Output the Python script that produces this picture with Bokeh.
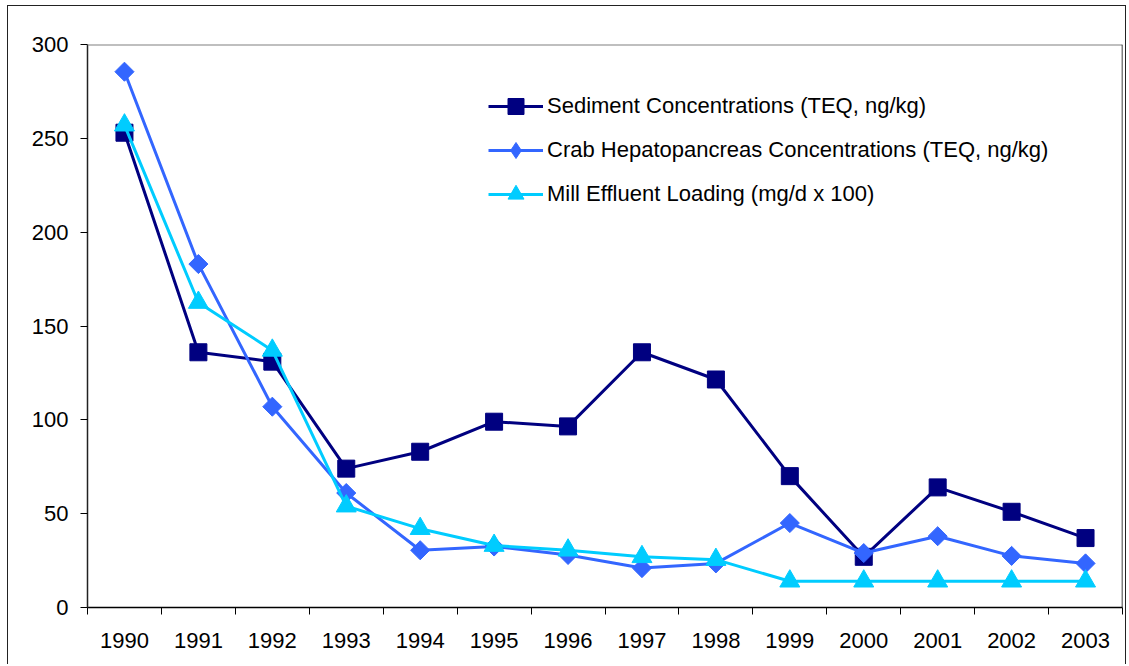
import numpy as np
from bokeh.plotting import figure
from bokeh.models import FixedTicker, Span, Legend, LegendItem, Range1d
from bokeh.embed import file_html
from bokeh.resources import INLINE

years = ["1990", "1991", "1992", "1993", "1994", "1995", "1996",
         "1997", "1998", "1999", "2000", "2001", "2002", "2003"]
sediment = [253, 136, 131, 74, 83, 99, 96.5, 136, 121.5, 70, 27, 64, 51, 37]
crab = [285.5, 183, 107, 61, 30.5, 32.5, 28, 21, 23.5, 45, 29, 38, 27.5, 23.5]
mill = [257, 162.5, 137, 54, 42, 33, 30.5, 27, 25.5, 14, 14, 14, 14, 14]
y_ticks = [0, 50, 100, 150, 200, 250, 300]
series_names = ["Sediment Concentrations (TEQ, ng/kg)",
                "Crab Hepatopancreas Concentrations (TEQ, ng/kg)",
                "Mill Effluent Loading (mg/d x 100)"]

FONT = "Liberation Sans"
xs = list(range(len(years)))

p = figure(width=1119, height=659, output_backend="svg", toolbar_location=None,
           x_range=Range1d(-0.5, len(years) - 0.5), y_range=Range1d(0, 300),
           min_border_left=79, min_border_top=38, min_border_right=5,
           min_border_bottom=58)
p.styles = {"border": "1px solid #222", "border-bottom": "none",
            "margin-left": "7px", "margin-top": "5px"}
p.outline_line_color = None
p.background_fill_color = "white"
p.border_fill_color = "white"

# axes
xa = p.xaxis[0]
xa.ticker = FixedTicker(ticks=xs, minor_ticks=[i - 0.5 for i in range(len(years) + 1)])
xa.major_label_overrides = {i: y for i, y in enumerate(years)}
xa.major_tick_out = 0
xa.major_tick_in = 0
xa.minor_tick_out = 7
xa.minor_tick_in = 0
xa.minor_tick_line_color = "black"
xa.minor_tick_line_width = 1
xa.axis_line_color = "black"
xa.axis_line_width = 1.5
xa.major_label_standoff = 18
xa.major_label_text_font = FONT
xa.major_label_text_font_size = "22px"
xa.major_label_text_color = "black"

ya = p.yaxis[0]
ya.ticker = FixedTicker(ticks=y_ticks, minor_ticks=[])
ya.major_tick_out = 7
ya.major_tick_in = 0
ya.major_tick_line_color = "black"
ya.axis_line_color = "#222"
ya.axis_line_width = 1.5
ya.major_label_standoff = 12
ya.major_label_text_font = FONT
ya.major_label_text_font_size = "22px"
ya.major_label_text_color = "black"

p.xgrid.visible = False
p.ygrid.visible = False

p.add_layout(Span(location=300, dimension="width", line_color="#808080", line_width=2))
p.add_layout(Span(location=len(years) - 0.5, dimension="height", line_color="black", line_width=1.5))

# series
NAVY = "#000080"
BLUE = "#3366FF"
CYAN = "#00CCFF"

r1l = p.line(xs, sediment, line_color=NAVY, line_width=3)
r1m = p.scatter(xs, sediment, marker="square", size=17, fill_color=NAVY, line_color=NAVY)
r2l = p.line(xs, crab, line_color=BLUE, line_width=3)
r2m = p.scatter(xs, crab, marker="square", angle=np.pi / 4, size=13.5, fill_color=BLUE, line_color=BLUE)
r2k = p.scatter(xs, crab, marker="diamond", size=0, fill_color=BLUE, line_color=BLUE)
r3l = p.line(xs, mill, line_color=CYAN, line_width=3)
r3m = p.scatter(xs, mill, marker="triangle", size=20, fill_color=CYAN, line_color=CYAN)

legend = Legend(items=[
    LegendItem(label=series_names[0], renderers=[r1l, r1m]),
    LegendItem(label=series_names[1], renderers=[r2l, r2k]),
    LegendItem(label=series_names[2], renderers=[r3l, r3m]),
], location=(401, 393))
legend.border_line_color = None
legend.background_fill_alpha = 0
legend.padding = 0
legend.margin = 0
legend.glyph_width = 55
legend.glyph_height = 40
legend.spacing = 4
legend.label_standoff = 4
legend.label_text_font = FONT
legend.label_text_font_size = "22px"
legend.label_text_color = "black"
legend.label_height = 20
p.add_layout(legend)

open("out.html", "w").write(file_html(p, INLINE))
